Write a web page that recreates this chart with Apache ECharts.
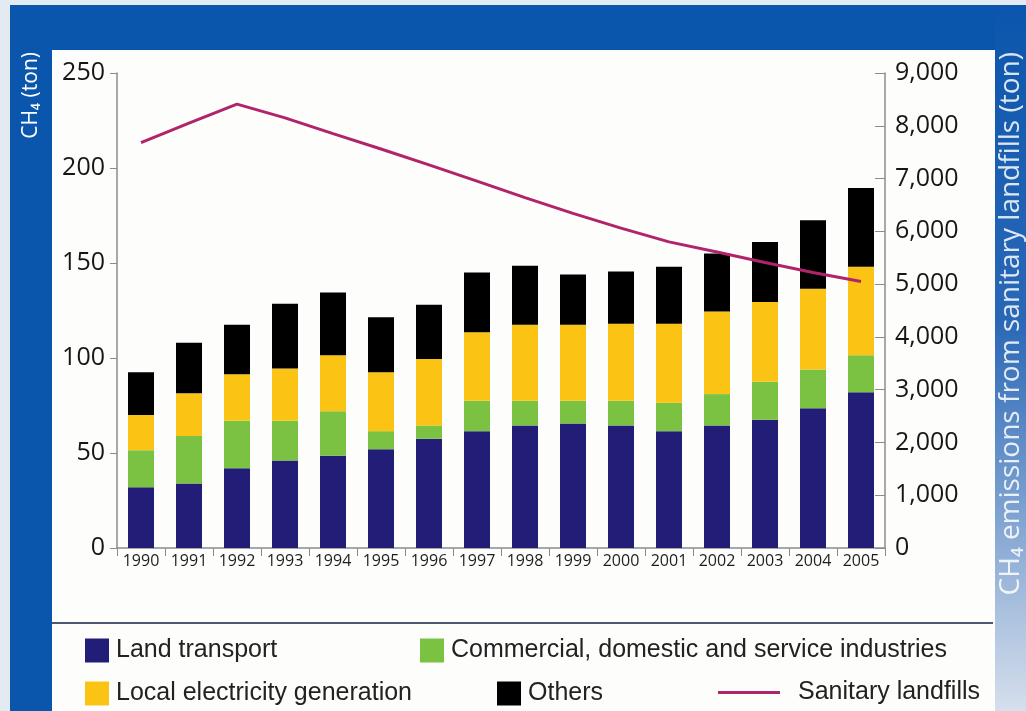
<!DOCTYPE html>
<html lang="en">
<head>
    <meta charset="UTF-8">
    <title>CH4 emissions</title>
    <style>
        body{ margin:0; }
        #box{ width:1026px; height:711px; }
    </style>
</head>
<body>
<div id="box"></div>
<script src="https://cdn.jsdelivr.net/npm/echarts@6.0.0/dist/echarts.min.js"></script>
<script>
    var years = ['1990','1991','1992','1993','1994','1995','1996','1997','1998','1999','2000','2001','2002','2003','2004','2005'];
    var landTransport = [32, 34, 42, 46, 48.5, 52, 57.5, 61.5, 64.5, 65.5, 64.5, 61.5, 64.5, 67.5, 73.5, 82];
    var commercial = [19.5, 25, 25, 21, 23.5, 9.5, 7, 16, 13, 12, 13, 15, 16.5, 20, 20.5, 19.5];
    var electricity = [18.5, 22.5, 24.5, 27.5, 29.5, 31, 35, 36, 40, 40, 40.5, 41.5, 43.5, 42, 42.5, 46.5];
    var others = [22.5, 26.5, 26, 34, 33, 29, 28.5, 31.5, 31, 26.5, 27.5, 30, 30.5, 31.5, 36, 41.5];
    var landfills = [7680, 8050, 8410, 8150, 7850, 7560, 7260, 6950, 6640, 6340, 6060, 5800, 5610, 5410, 5220, 5050];

    var names = ['Land transport', 'Commercial, domestic and service industries', 'Local electricity generation', 'Others', 'Sanitary landfills'];
    var colors = ['#221e78', '#7cc242', '#fbc415', '#000000', '#b1246c'];

    var blue = '#0b56ad';
    var axisColor = '#8c8c8c';
    var labelFont = 'Open Sans';

    var mychart = echarts.init(document.getElementById('box'));

    // one legend per item, they sit on an irregular 2-row layout
    var legendPos = [[80, 633], [415, 633], [80, 676], [492, 676], [713, 675]];
    var legends = names.map(function (n, i) {
        var isLine = i === 4;
        return {
            data: [n],
            left: legendPos[i][0],
            top: legendPos[i][1],
            icon: 'rect',
            itemWidth: isLine ? 62 : 24,
            itemHeight: isLine ? 3 : 24,
            selectedMode: false,
            textStyle: {
                fontFamily: 'Liberation Sans',
                fontSize: 25,
                color: '#222',
                padding: [0, 0, 0, isLine ? 13 : 2]
            }
        };
    });

    var barSeries = [landTransport, commercial, electricity, others].map(function (d, i) {
        return {
            name: names[i],
            type: 'bar',
            stack: 'ch4',
            barWidth: 26,
            itemStyle: { color: colors[i] },
            data: d
        };
    });

    var option = {
        animation: false,
        graphic: [
            { type: 'rect', z: -20, shape: { x: 0, y: 0, width: 1026, height: 711 }, style: { fill: '#e4eaf2' } },
            { type: 'rect', z: -19, shape: { x: 10, y: 5, width: 1016, height: 48 }, style: { fill: blue } },
            { type: 'rect', z: -19, shape: { x: 10, y: 5, width: 42, height: 706 }, style: { fill: blue } },
            {
                type: 'rect', z: -19, shape: { x: 995, y: 5, width: 31, height: 706 },
                style: {
                    fill: new echarts.graphic.LinearGradient(0, 0, 0, 1, [
                        { offset: 0, color: blue },
                        { offset: 0.45, color: '#2a68b6' },
                        { offset: 1, color: '#d6dfec' }
                    ])
                }
            },
            { type: 'rect', z: -18, shape: { x: 52, y: 50, width: 943, height: 661 }, style: { fill: '#fdfdfc' } },
            { type: 'line', z: -17, shape: { x1: 52, y1: 623, x2: 993, y2: 623 }, style: { stroke: '#4b5a6e', lineWidth: 2 } },
            {
                type: 'text', z: 10, x: 31, y: 52, rotation: Math.PI / 2,
                style: { text: 'CH₄ (ton)', fill: '#ffffff', font: '21px "Open Sans"', align: 'right', verticalAlign: 'middle' }
            },
            {
                type: 'text', z: 10, x: 1011, y: 52, rotation: Math.PI / 2,
                style: { text: 'CH₄ emissions from sanitary landfills (ton)', fill: 'rgba(255,255,255,0.85)', font: '28px "Open Sans"', align: 'right', verticalAlign: 'middle' }
            }
        ],
        legend: legends,
        grid: { left: 117, right: 141, top: 73, bottom: 163, containLabel: false },
        xAxis: {
            type: 'category',
            data: years,
            axisLine: { lineStyle: { color: axisColor, width: 1.5 } },
            axisTick: { show: true, alignWithLabel: false, interval: 0, length: 8, lineStyle: { color: axisColor } },
            axisLabel: { interval: 0, margin: 5, fontFamily: labelFont, fontSize: 16, color: '#1e1e1e' }
        },
        yAxis: [
            {
                type: 'value',
                min: 0,
                max: 250,
                interval: 50,
                splitLine: { show: false },
                axisLine: { show: true, lineStyle: { color: axisColor, width: 1.5 } },
                axisTick: { show: true, length: 7, lineStyle: { color: axisColor } },
                axisLabel: { margin: 12, fontFamily: labelFont, fontSize: 25, color: '#161616' }
            },
            {
                type: 'value',
                min: 0,
                max: 9000,
                interval: 1000,
                position: 'right',
                splitLine: { show: false },
                axisLine: { show: true, lineStyle: { color: axisColor, width: 1.5 } },
                axisTick: { show: true, inside: true, length: 10, lineStyle: { color: axisColor } },
                axisLabel: {
                    margin: 10, fontFamily: labelFont, fontSize: 25, color: '#161616',
                    formatter: function (v) { return v.toLocaleString('en-US'); }
                }
            }
        ],
        series: barSeries.concat([{
            name: names[4],
            type: 'line',
            yAxisIndex: 1,
            showSymbol: false,
            symbol: 'none',
            z: 5,
            itemStyle: { color: colors[4] },
            lineStyle: { color: colors[4], width: 3 },
            data: landfills
        }])
    };
    mychart.setOption(option);
</script>
</body>
</html>
